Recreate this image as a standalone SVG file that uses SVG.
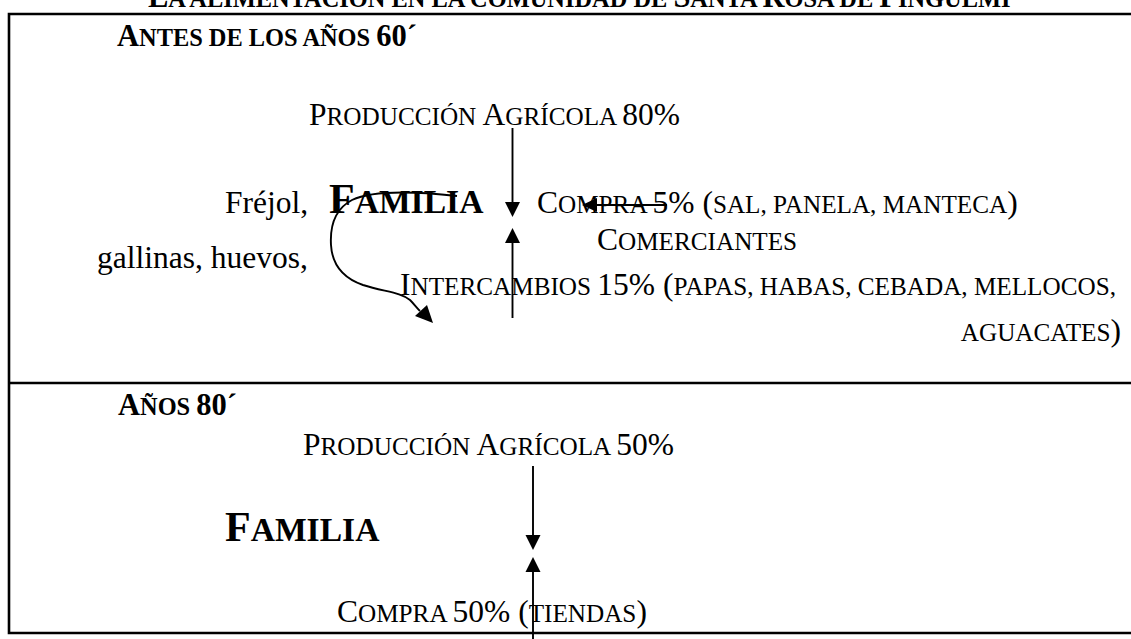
<svg xmlns="http://www.w3.org/2000/svg" width="1131" height="639" viewBox="0 0 1131 639">
<style>
text { font-family: "Liberation Serif", "Times New Roman", serif; fill: #000; }
.n { font-size: 31.5px; }
.s { font-size: 25.2px; }
.h { font-size: 30.5px; font-weight: bold; }
.hs { font-size: 24.4px; }
.fam { font-size: 42px; font-weight: bold; }
.fams { font-size: 33.6px; }
.frame { fill: none; stroke: #000; stroke-width: 2.6; }
.con { fill: none; stroke: #000; stroke-width: 1.9; }
.head { fill: #000; stroke: none; }
</style>
<rect width="1131" height="639" fill="#fff"/>
<g id="title">
<text class="h" x="148" y="7">L<tspan class="hs">A ALIMENTACIÓN EN LA COMUNIDAD DE </tspan>S<tspan class="hs">ANTA </tspan>R<tspan class="hs">OSA DE </tspan>P<tspan class="hs">INGULMI</tspan></text>
</g>
<g id="frame">
<path class="frame" d="M1133,14 H9 V633 H1133"/>
<path class="frame" d="M9,383 H1133"/>
</g>
<g id="section1-heading">
<text class="h" x="117" y="46">A<tspan class="hs">NTES DE LOS AÑOS </tspan>60´</text>
</g>
<g id="produccion80">
<text class="n" x="309" y="125">P<tspan class="s">RODUCCIÓN </tspan>A<tspan class="s">GRÍCOLA </tspan>80%</text>
</g>
<g id="familia1">
<text class="fam" x="329" y="213">F<tspan class="fams">AMILIA</tspan></text>
</g>
<g id="frejol">
<text class="n" x="225" y="213">Fréjol,</text>
<text class="n" x="97" y="268">gallinas, huevos,</text>
</g>
<g id="compra5">
<text class="n" x="537" y="213">C<tspan class="s">OMPRA </tspan>5% (<tspan class="s">SAL, PANELA, MANTECA</tspan>)</text>
</g>
<g id="comerciantes">
<text class="n" x="597" y="250">C<tspan class="s">OMERCIANTES</tspan></text>
</g>
<g id="intercambios">
<text class="n" x="400" y="295">I<tspan class="s">NTERCAMBIOS </tspan>15% (<tspan class="s">PAPAS, HABAS, CEBADA, MELLOCOS,</tspan></text>
<text class="n" x="1121" y="341" text-anchor="end"><tspan class="s">AGUACATES</tspan>)</text>
</g>
<g id="section2-heading">
<text class="h" x="118" y="415">A<tspan class="hs">ÑOS </tspan>80´</text>
</g>
<g id="produccion50">
<text class="n" x="303" y="455">P<tspan class="s">RODUCCIÓN </tspan>A<tspan class="s">GRÍCOLA </tspan>50%</text>
</g>
<g id="familia2">
<text class="fam" x="225" y="541">F<tspan class="fams">AMILIA</tspan></text>
</g>
<g id="compra50">
<text class="n" x="337" y="622">C<tspan class="s">OMPRA </tspan>50% (<tspan class="s">TIENDAS</tspan>)</text>
</g>
<g id="connectors">
<line class="con" x1="512.5" y1="128" x2="512.5" y2="203"/>
<polygon class="head" points="505,202 520,202 512.5,217"/>
<line class="con" x1="512.5" y1="242" x2="512.5" y2="318"/>
<polygon class="head" points="505,243 520,243 512.5,228"/>
<line class="con" x1="667" y1="205" x2="596" y2="205"/>
<polygon class="head" points="597,198 597,212 582,205"/>
<path class="con" d="M457,196 C420,192 375,189 352,200 C333,210 330,228 331,245 C332,262 340,277 363,285 C385,292 400,292 410,300 C414,304 417,308 420,311"/>
<polygon class="head" points="433,323 415,316 427,305"/>
<line class="con" x1="533" y1="466" x2="533" y2="536"/>
<polygon class="head" points="525.5,535 540.5,535 533,550"/>
<line class="con" x1="533" y1="571" x2="533" y2="640"/>
<polygon class="head" points="525.5,572 540.5,572 533,557"/>
</g>
</svg>
